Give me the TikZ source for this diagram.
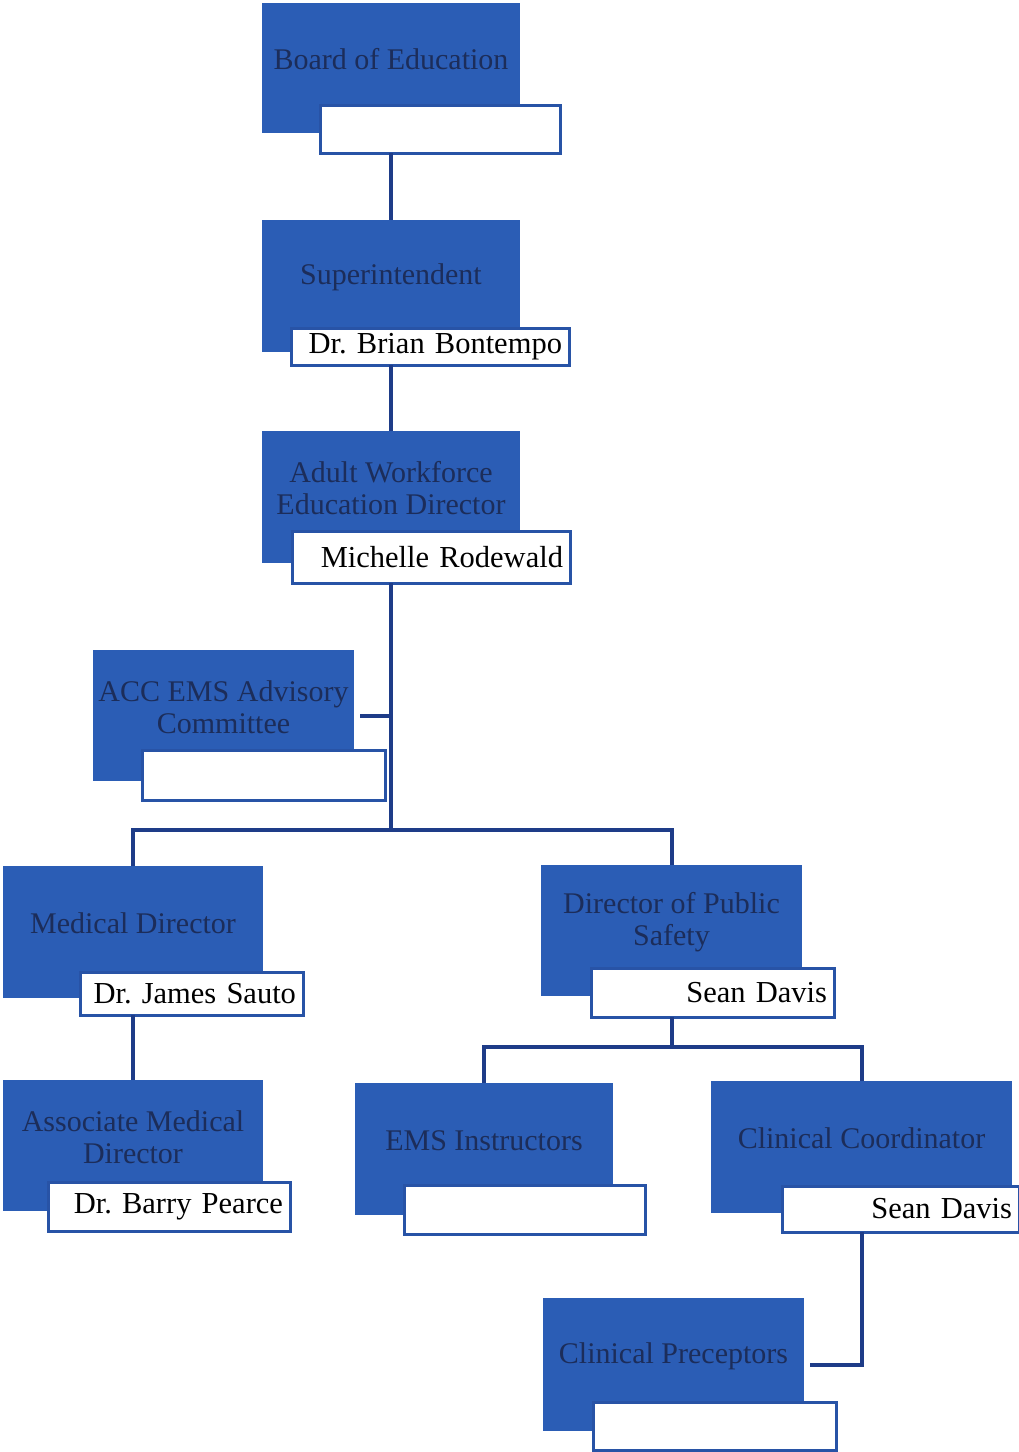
\documentclass[tikz,border=0pt]{standalone}
\usepackage{fontspec}
\setmainfont{Liberation Serif}
\frenchspacing
\definecolor{boxblue}{HTML}{2B5DB5}
\definecolor{edgeblue}{HTML}{2853A6}
\definecolor{lineblue}{HTML}{1E3C88}
\definecolor{titletext}{HTML}{1C2D5A}
\tikzset{
  bluebox/.style={fill=boxblue, draw=none, inner sep=0pt, outer sep=0pt, anchor=north west},
  titletxt/.style={text=titletext, font=\fontsize{30}{32}\selectfont, align=center, yshift=8.5pt, inner sep=0pt},
  namebox/.style={fill=white, draw=edgeblue, line width=3pt, inner xsep=7pt, inner ysep=0pt, outer sep=0pt,
    anchor=north west, align=right, font=\fontsize{30.5}{32}\selectfont, text=black},
  conn/.style={draw=lineblue, line width=4pt}
}
\newcommand{\bbox}[6]{%
  \node[bluebox, minimum width=#4-#2, minimum height=#5-#3,
        label={[titletxt]center:#6}] (#1) at (#2,#3) {};}
\newcommand{\nbox}[6]{%
  \node[namebox, minimum height=#5-#3, text width=#4-#2-14] (#1) at (#2,#3) {#6};}
\begin{document}
\begin{tikzpicture}[x=1pt,y=-1pt]
\useasboundingbox (0,0) rectangle (1019,1452);
% blue boxes
\bbox{board}{262}{3}{520}{133}{Board of Education}
\bbox{super}{262}{220}{520}{352}{Superintendent}
\bbox{adult}{262}{431}{520}{563}{Adult Workforce\\Education Director}
\bbox{committee}{93}{650}{354}{781}{ACC EMS Advisory\\Committee}
\bbox{meddir}{3}{866}{263}{998}{Medical Director}
\bbox{dps}{541}{865}{802}{996}{Director of Public\\Safety}
\bbox{assoc}{3}{1080}{263}{1211}{Associate Medical\\Director}
\bbox{ems}{355}{1083}{613}{1215}{EMS Instructors}
\bbox{clin}{711}{1081}{1012}{1213}{Clinical Coordinator}
\bbox{prec}{543}{1298}{804}{1431}{Clinical Preceptors}
% white name boxes
\nbox{boardname}{320}{105}{560}{153}{}
\nbox{supername}{291}{328}{569}{365}{Dr. Brian Bontempo}
\nbox{adultname}{292}{531}{570}{583}{Michelle Rodewald}
\nbox{committeename}{142}{750}{385}{800}{}
\nbox{medname}{80}{972}{303}{1015}{Dr. James Sauto}
\nbox{dpsname}{591}{968}{834}{1017}{Sean Davis}
\nbox{assocname}{48}{1182}{290}{1231}{Dr. Barry Pearce}
\nbox{emsname}{404}{1185}{645}{1234}{}
\nbox{clinname}{782}{1186}{1019}{1232}{Sean Davis}
\nbox{precname}{593}{1402}{836}{1450}{}
% connectors
\coordinate (split) at (391,830);
\coordinate (split2) at (671.5,1047);
\draw[conn] (board.south |- boardname.south) -- (super.north);
\draw[conn] (super.south |- supername.south) -- (adult.north);
\draw[conn] (adult.south |- adultname.south) -- (split);
\draw[conn] ([xshift=6pt]committee.east) -- (committee.east -| split);
\draw[conn] (meddir.north) -- (meddir.north |- split) -- (dps.north |- split) -- (dps.north);
\draw[conn] (meddir.south |- medname.south) -- (assoc.north);
\draw[conn] (dps.south |- dpsname.south) -- (split2);
\draw[conn] (ems.north) -- (ems.north |- split2) -- (clin.north |- split2) -- (clin.north);
\draw[conn] (clin.south |- clinname.south) -- (clin.south |- prec.east) -- ([xshift=6pt]prec.east);
\end{tikzpicture}
\end{document}
